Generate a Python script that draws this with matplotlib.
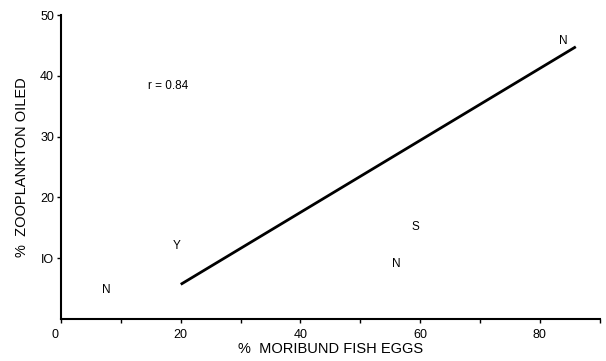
import matplotlib
matplotlib.use('Agg')
import matplotlib.pyplot as plt
from matplotlib import rc
from matplotlib.transforms import ScaledTranslation

font = {'family': 'Liberation Sans', 'weight': 'normal', 'size': 9}
rc('font', **font)

# data points, labelled by letter
pt_x = [7.5, 19.3, 83.9, 59.2, 56.0]
pt_y = [4.8, 12.0, 45.7, 15.2, 9.0]
pt_lab = ['N', 'Y', 'N', 'S', 'N']

# regression line end points
line_x = [20.0, 86.0]
line_y = [5.7, 44.8]

x_major = [0, 20, 40, 60, 80]
x_minor = [10, 30, 50, 70, 90]
y_major = [10, 20, 30, 40, 50]

fig = plt.figure(figsize=(6.06, 3.61), dpi=100)
ax = fig.add_axes([0.1007, 0.1163, 0.889, 0.8417])

ax.plot(line_x, line_y, color='black', lw=2.0, solid_capstyle='butt')
for x, y, s in zip(pt_x, pt_y, pt_lab):
    ax.text(x, y, s, ha='center', va='center', fontsize=8.5)

ax.text(14.5, 38.4, 'r = 0.84', ha='left', va='center', fontsize=8.5)

ax.set_xlim(0, 90)
ax.set_ylim(0, 50)
ax.spines['top'].set_visible(False)
ax.spines['right'].set_visible(False)
ax.spines['left'].set_linewidth(1.5)
ax.spines['bottom'].set_linewidth(1.5)

ax.set_xticks(x_major)
ax.set_xticks(x_minor, minor=True)
ax.set_xticklabels([str(v) for v in x_major])
ax.set_yticks(y_major)
ax.set_yticklabels(['IO', '20', '30', '40', '50'])
ax.tick_params(axis='both', which='both', direction='out', length=3, width=1)
ax.tick_params(axis='x', pad=4)
ax.tick_params(axis='y', pad=2)

# the origin 0 sits left of the axis corner
zero = ax.get_xticklabels()[0]
zero.set_transform(zero.get_transform() + ScaledTranslation(-0.06, 0, fig.dpi_scale_trans))

ax.set_xlabel('%  MORIBUND FISH EGGS', fontsize=10.5, labelpad=1)
ax.set_ylabel('%  ZOOPLANKTON OILED', fontsize=10.5, labelpad=8)

fig.savefig('out.png', dpi=100)
